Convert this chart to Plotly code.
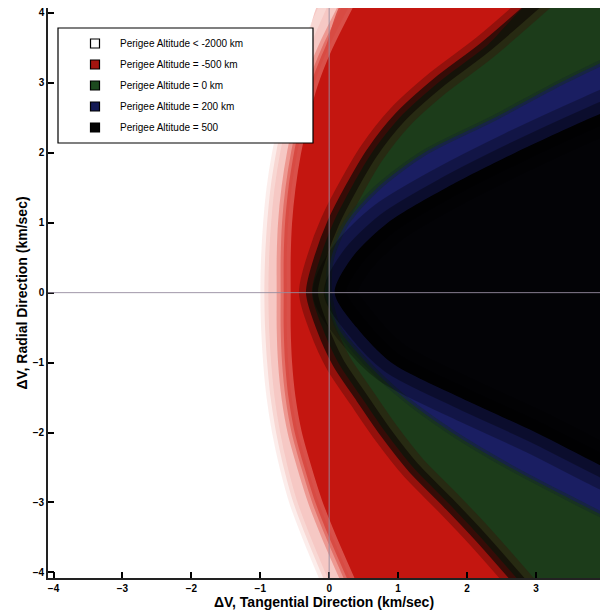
import plotly.graph_objects as go

y_rows = [-4.4, -3.5, -3.0, -2.5, -2.0, -1.5, -1.0, -0.5, 0.0, 0.5, 1.0, 1.5, 2.0, 2.5, 3.0, 3.5, 4.4]

# Tangential dV (km/sec) where each region begins (region extends to the right)
fade_start_x = [0.05, -0.33, -0.52, -0.66, -0.77, -0.85, -0.90, -0.93, -0.94, -0.93, -0.90, -0.85, -0.77, -0.66, -0.53, -0.35, 0.05]
red_full_x   = [0.40, 0.00, -0.20, -0.36, -0.50, -0.59, -0.64, -0.66, -0.66, -0.66, -0.64, -0.59, -0.51, -0.40, -0.26, -0.06, 0.40]
green_x      = [3.00, 2.20, 1.72, 1.22, 0.82, 0.47, 0.13, -0.10, -0.25, -0.13, 0.06, 0.32, 0.62, 1.02, 1.58, 2.25, 3.30]
blue_x       = [6.30, 4.60, 3.60, 2.63, 1.78, 1.08, 0.54, 0.13, 0.00, 0.03, 0.25, 0.70, 1.38, 2.40, 3.35, 4.40, 6.30]
black_x      = [8.00, 6.30, 5.10, 4.00, 3.00, 1.90, 0.90, 0.40, 0.08, 0.33, 0.85, 1.70, 2.70, 3.80, 5.00, 6.30, 8.50]

legend_names = ["Perigee Altitude < -2000 km", "Perigee Altitude = -500 km",
                "Perigee Altitude = 0 km", "Perigee Altitude = 200 km",
                "Perigee Altitude = 500"]
legend_colors = ["#ffffff", "#a3140f", "#1d4a1f", "#141a55", "#050505"]

x_ticks = [-4, -3, -2, -1, 0, 1, 2, 3]
y_ticks = [-4, -3, -2, -1, 0, 1, 2, 3, 4]

FONT = "Arial, Liberation Sans, sans-serif"
FAR = 14.0  # off-screen right edge for closing region polygons
TOPY = 5.0

fig = go.Figure()


def region(bx, color):
    xs = list(bx) + [FAR, FAR]
    ys = list(y_rows) + [TOPY, -TOPY]
    fig.add_trace(go.Scatter(x=xs, y=ys, mode="lines", fill="toself",
                             fillcolor=color, line=dict(width=0, color=color, shape="spline", smoothing=0.8),
                             hoverinfo="skip", showlegend=False))


def edge(bx, color, width):
    fig.add_trace(go.Scatter(x=bx, y=y_rows, mode="lines",
                             line=dict(width=width, color=color, shape="spline", smoothing=0.8),
                             hoverinfo="skip", showlegend=False))


region(fade_start_x, "rgb(246,200,196)")
edge(fade_start_x, "rgba(250,225,222,0.6)", 8)
region(red_full_x, "rgb(196,22,16)")
edge(red_full_x, "rgba(232,120,112,0.6)", 14)
edge(red_full_x, "rgba(215,70,62,0.5)", 6)
region(green_x, "rgb(28,60,26)")
edge(green_x, "rgba(60,8,5,0.35)", 26)
edge(green_x, "rgba(14,10,6,0.7)", 12)
region(blue_x, "rgb(26,30,98)")
edge(blue_x, "rgba(20,42,40,0.5)", 6)
region(black_x, "rgb(3,3,6)")
edge(black_x, "rgba(0,0,0,0.28)", 44)
edge(black_x, "rgba(0,0,0,0.35)", 22)

for i, (nm, col) in enumerate(zip(legend_names, legend_colors)):
    fig.add_trace(go.Scatter(x=[None], y=[None], mode="markers", name=nm,
                             legendgroup=f"g{i}",
                             marker=dict(symbol="square", size=9, color=col,
                                         line=dict(color="black", width=1.2))))

# Legend box
fig.add_shape(type="rect", xref="paper", yref="paper",
              x0=(58 - 48) / 552, x1=(313 - 48) / 552,
              y0=(578 - 143) / 570, y1=(578 - 28) / 570,
              fillcolor="white", line=dict(color="black", width=1.2), layer="above")

# zero reference lines
fig.add_shape(type="line", xref="x", yref="paper", x0=0, x1=0, y0=0, y1=1,
              line=dict(color="rgba(150,140,160,0.9)", width=1), layer="above")
fig.add_shape(type="line", xref="paper", yref="y", x0=0, x1=1, y0=0, y1=0,
              line=dict(color="rgba(150,140,160,0.9)", width=1), layer="above")

axis_common = dict(ticks="inside", ticklen=6, tickwidth=1.5, tickcolor="black",
                   showline=True, linecolor="#222", linewidth=1.6, mirror=False,
                   showgrid=False, zeroline=False, layer="above traces",
                   tickfont=dict(family=FONT, size=10, color="black", weight="bold"),
                   automargin=False)

fig.update_layout(
    width=600, height=615,
    margin=dict(l=48, r=0, t=8, b=37),
    paper_bgcolor="white", plot_bgcolor="white",
    xaxis=dict(range=[-4.08, 3.93], tickvals=x_ticks,
               title=dict(text="ΔV, Tangential Direction (km/sec)", standoff=4,
                          font=dict(family=FONT, size=14, color="black", weight="bold")),
               **axis_common),
    yaxis=dict(range=[-4.08, 4.07], tickvals=y_ticks,
               title=dict(text="ΔV, Radial Direction (km/sec)", standoff=2,
                          font=dict(family=FONT, size=14, color="black", weight="bold")),
               **axis_common),
    legend=dict(x=(70 - 48) / 552, y=(578 - 29) / 570, xanchor="left", yanchor="top",
                bgcolor="rgba(0,0,0,0)", borderwidth=0, tracegroupgap=2, itemwidth=40,
                font=dict(family=FONT, size=10, color="black")),
    showlegend=True,
)

fig.write_html("out.html", config={"displayModeBar": False},
               post_script="document.body.style.margin='0px';document.documentElement.style.overflow='hidden';")
